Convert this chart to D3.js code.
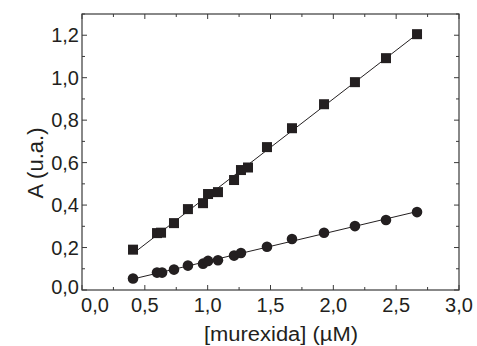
<!DOCTYPE html>
<html>
<head>
<meta charset="utf-8">
<script src="https://cdn.jsdelivr.net/npm/d3@7"></script>
<style>
  html, body { margin: 0; padding: 0; background: #fff; }
  svg { display: block; }
  text { font-family: "Liberation Sans", Arial, sans-serif; fill: #231f20; }
</style>
</head>
<body>
<svg id="chart" width="477" height="346"></svg>
<script>
// ---- data ----
const xSquares = [0.406, 0.597, 0.629, 0.732, 0.843, 0.963, 1.003, 1.082, 1.210, 1.265, 1.321, 1.472, 1.671, 1.926, 2.172, 2.419, 2.666];
const ySquares = [0.190, 0.268, 0.270, 0.315, 0.381, 0.409, 0.452, 0.461, 0.518, 0.565, 0.577, 0.673, 0.762, 0.875, 0.979, 1.092, 1.205];
const xCircles = [0.406, 0.597, 0.637, 0.732, 0.843, 0.963, 1.003, 1.082, 1.210, 1.265, 1.472, 1.671, 1.926, 2.172, 2.419, 2.666];
const yCircles = [0.054, 0.082, 0.082, 0.096, 0.115, 0.124, 0.137, 0.140, 0.162, 0.174, 0.204, 0.240, 0.270, 0.301, 0.330, 0.367];
const xTicks = [0, 0.5, 1.0, 1.5, 2.0, 2.5, 3.0];
const yTicks = [0, 0.2, 0.4, 0.6, 0.8, 1.0, 1.2];
const xLabel = "[murexida] (µM)";
const yLabel = "A (u.a.)";

// ---- layout ----
const svg = d3.select("#chart");
const L = 82, R = 459, T = 14, B = 290;
const x = d3.scaleLinear().domain([0, 3]).range([L, R]);
const y = d3.scaleLinear().domain([0, 1.3]).range([B, T]);
const fmt = v => d3.format(".1f")(v).replace(".", ",");
const axisColor = "#3a3a3a";

// frame
svg.append("rect").attr("x", L).attr("y", T).attr("width", R - L).attr("height", B - T)
  .attr("fill", "none").attr("stroke", axisColor).attr("stroke-width", 1.2);

// ticks (inward, all four sides)
const xMinor = d3.range(0, 3.001, 0.25);
const yMinor = d3.range(0, 1.301, 0.1);
const g = svg.append("g").attr("stroke", axisColor).attr("stroke-width", 1);
xMinor.forEach((v, i) => {
  const len = (i % 2 === 0) ? 5 : 3;
  g.append("line").attr("x1", x(v)).attr("x2", x(v)).attr("y1", B).attr("y2", B - len);
  g.append("line").attr("x1", x(v)).attr("x2", x(v)).attr("y1", T).attr("y2", T + len);
});
yMinor.forEach((v, i) => {
  const len = (i % 2 === 0) ? 5 : 3;
  g.append("line").attr("y1", y(v)).attr("y2", y(v)).attr("x1", L).attr("x2", L + len);
  g.append("line").attr("y1", y(v)).attr("y2", y(v)).attr("x1", R).attr("x2", R - len);
});

// tick labels
svg.append("g").selectAll("text").data(xTicks).join("text")
  .attr("x", (d, i) => x(d) + (i === 0 ? 13 : 0))
  .attr("y", 312)
  .attr("text-anchor", "middle")
  .attr("font-size", 20)
  .text(fmt);
svg.append("g").selectAll("text").data(yTicks).join("text")
  .attr("x", 79)
  .attr("y", (d, i) => y(d) + 7 - (i === 0 ? 3 : 0))
  .attr("text-anchor", "end")
  .attr("font-size", 20)
  .text(fmt);

// axis titles
svg.append("text").attr("x", 281).attr("y", 341).attr("text-anchor", "middle")
  .attr("font-size", 20).attr("textLength", 154).attr("lengthAdjust", "spacingAndGlyphs")
  .text(xLabel);
svg.append("text").attr("transform", "translate(43,163) rotate(-90)")
  .attr("text-anchor", "middle").attr("font-size", 22).text(yLabel);

// linear fits
function fitLine(xs, ys) {
  const mx = d3.mean(xs), my = d3.mean(ys);
  let num = 0, den = 0;
  xs.forEach((xv, i) => { num += (xv - mx) * (ys[i] - my); den += (xv - mx) ** 2; });
  const b = num / den, a = my - b * mx;
  const x0 = d3.min(xs), x1 = d3.max(xs);
  return [[x0, a + b * x0], [x1, a + b * x1]];
}
const line = d3.line().x(d => x(d[0])).y(d => y(d[1]));
[[xSquares, ySquares], [xCircles, yCircles]].forEach(([xs, ys]) => {
  svg.append("path").attr("d", line(fitLine(xs, ys)))
    .attr("fill", "none").attr("stroke", "#231f20").attr("stroke-width", 1);
});

// markers
const sq = 10;
svg.append("g").selectAll("rect").data(xSquares.map((v, i) => [v, ySquares[i]])).join("rect")
  .attr("x", d => x(d[0]) - sq / 2).attr("y", d => y(d[1]) - sq / 2)
  .attr("width", sq).attr("height", sq)
  .attr("fill", "#231f20");
svg.append("g").selectAll("circle").data(xCircles.map((v, i) => [v, yCircles[i]])).join("circle")
  .attr("cx", d => x(d[0])).attr("cy", d => y(d[1])).attr("r", 5.3)
  .attr("fill", "#231f20");
</script>
</body>
</html>
